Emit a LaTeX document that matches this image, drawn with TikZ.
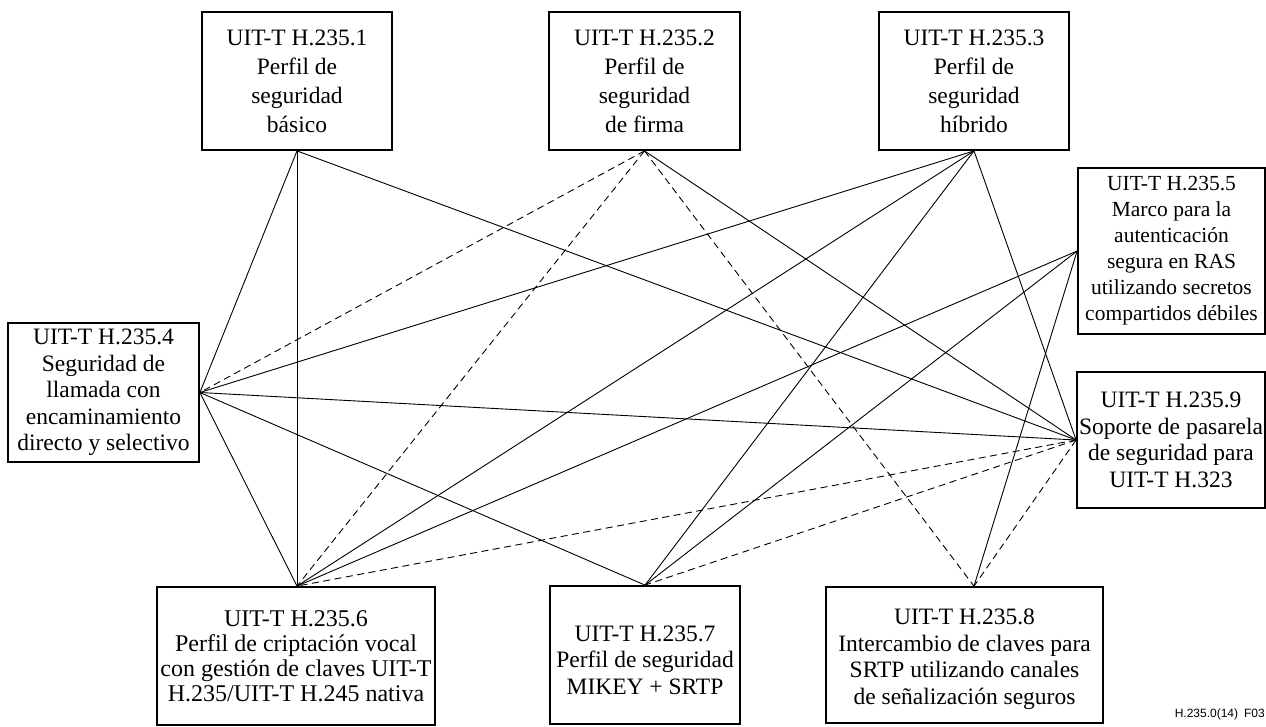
\documentclass[tikz,border=0pt]{standalone}
\usepackage{fontspec}
\setmainfont{Liberation Serif}
\newfontfamily\labelfont{Liberation Sans}
\begin{document}
\begin{tikzpicture}[x=1pt,y=-1pt,
  box/.style={draw,line width=1.8pt,inner sep=0pt,align=center,
    font=\fontsize{23.5}{26.5}\selectfont},
  conn/.style={line width=0.9pt},
  dconn/.style={line width=0.9pt,dash pattern=on 7pt off 4.5pt}]
\useasboundingbox (0,0) rectangle (1266,726);
\node[box,minimum width=190pt,minimum height=138pt,font=\fontsize{23.5}{29}\selectfont] (b1) at (297,81) {UIT-T H.235.1\\Perfil de\\seguridad\\básico};
\node[box,minimum width=191pt,minimum height=138pt,font=\fontsize{23.5}{29}\selectfont] (b2) at (644.5,81) {UIT-T H.235.2\\Perfil de\\seguridad\\de firma};
\node[box,minimum width=190pt,minimum height=138pt,font=\fontsize{23.5}{29}\selectfont] (b3) at (974,81) {UIT-T H.235.3\\Perfil de\\seguridad\\híbrido};
\node[box,minimum width=191pt,minimum height=139pt] (b4) at (103.5,392.5) {UIT-T H.235.4\\Seguridad de\\llamada con\\encaminamiento\\directo y selectivo};
\node[box,minimum width=187pt,minimum height=166pt,font=\fontsize{21.5}{26}\selectfont] (b5) at (1171.5,251) {UIT-T H.235.5\\Marco para la\\autenticación\\segura en RAS\\utilizando secretos\\compartidos débiles};
\node[box,minimum width=188pt,minimum height=136pt] (b9) at (1171,440) {UIT-T H.235.9\\Soporte de pasarela\\de seguridad para\\UIT-T H.323};
\node[box,minimum width=278pt,minimum height=138pt,font=\fontsize{24}{25}\selectfont] (b6) at (296,656) {UIT-T H.235.6\\Perfil de criptación vocal\\con gestión de claves UIT-T\\H.235/UIT-T H.245 nativa};
\node[box,minimum width=190pt,minimum height=138pt] (b7) at (645,655) {\rule{0pt}{26pt}UIT-T H.235.7\\Perfil de seguridad\\MIKEY + SRTP};
\node[box,minimum width=277pt,minimum height=136pt] (b8) at (964.5,655) {\rule{0pt}{24pt}UIT-T H.235.8\\Intercambio de claves para\\SRTP utilizando canales\\de señalización seguros};
\node[anchor=east,inner sep=0pt,font=\labelfont\fontsize{12}{14}\selectfont] (fig) at (1265,714) {H.235.0(14)\enspace F03};
\coordinate (p1) at (b1.south);
\coordinate (p2) at (b2.south);
\coordinate (p3) at (b3.south);
\coordinate (p4) at (b4.east);
\coordinate (p5) at (b5.west);
\coordinate (p9) at (b9.west);
\coordinate (p6) at ([xshift=1pt]b6.north);
\coordinate (p7) at (b7.north);
\coordinate (p8) at ([xshift=9.5pt]b8.north);
% solid connections
\draw[conn] (p1) -- (p4);
\draw[conn] (p1) -- (p6);
\draw[conn] (p1) -- (p9);
\draw[conn] (p2) -- (p9);
\draw[conn] (p3) -- (p4);
\draw[conn] (p3) -- (p6);
\draw[conn] (p3) -- (p7);
\draw[conn] (p3) -- (p9);
\draw[conn] (p5) -- (p6);
\draw[conn] (p5) -- (p7);
\draw[conn] (p5) -- (p8);
\draw[conn] (p4) -- (p9);
\draw[conn] (p4) -- (p7);
\draw[conn] (p4) -- (p6);
% dashed connections
\draw[dconn] (p2) -- (p4);
\draw[dconn] (p2) -- (p6);
\draw[dconn] (p2) -- (p8);
\draw[dconn] (p9) -- (p6);
\draw[dconn] (p9) -- (p7);
\draw[dconn] (p9) -- (p8);
\end{tikzpicture}
\end{document}
